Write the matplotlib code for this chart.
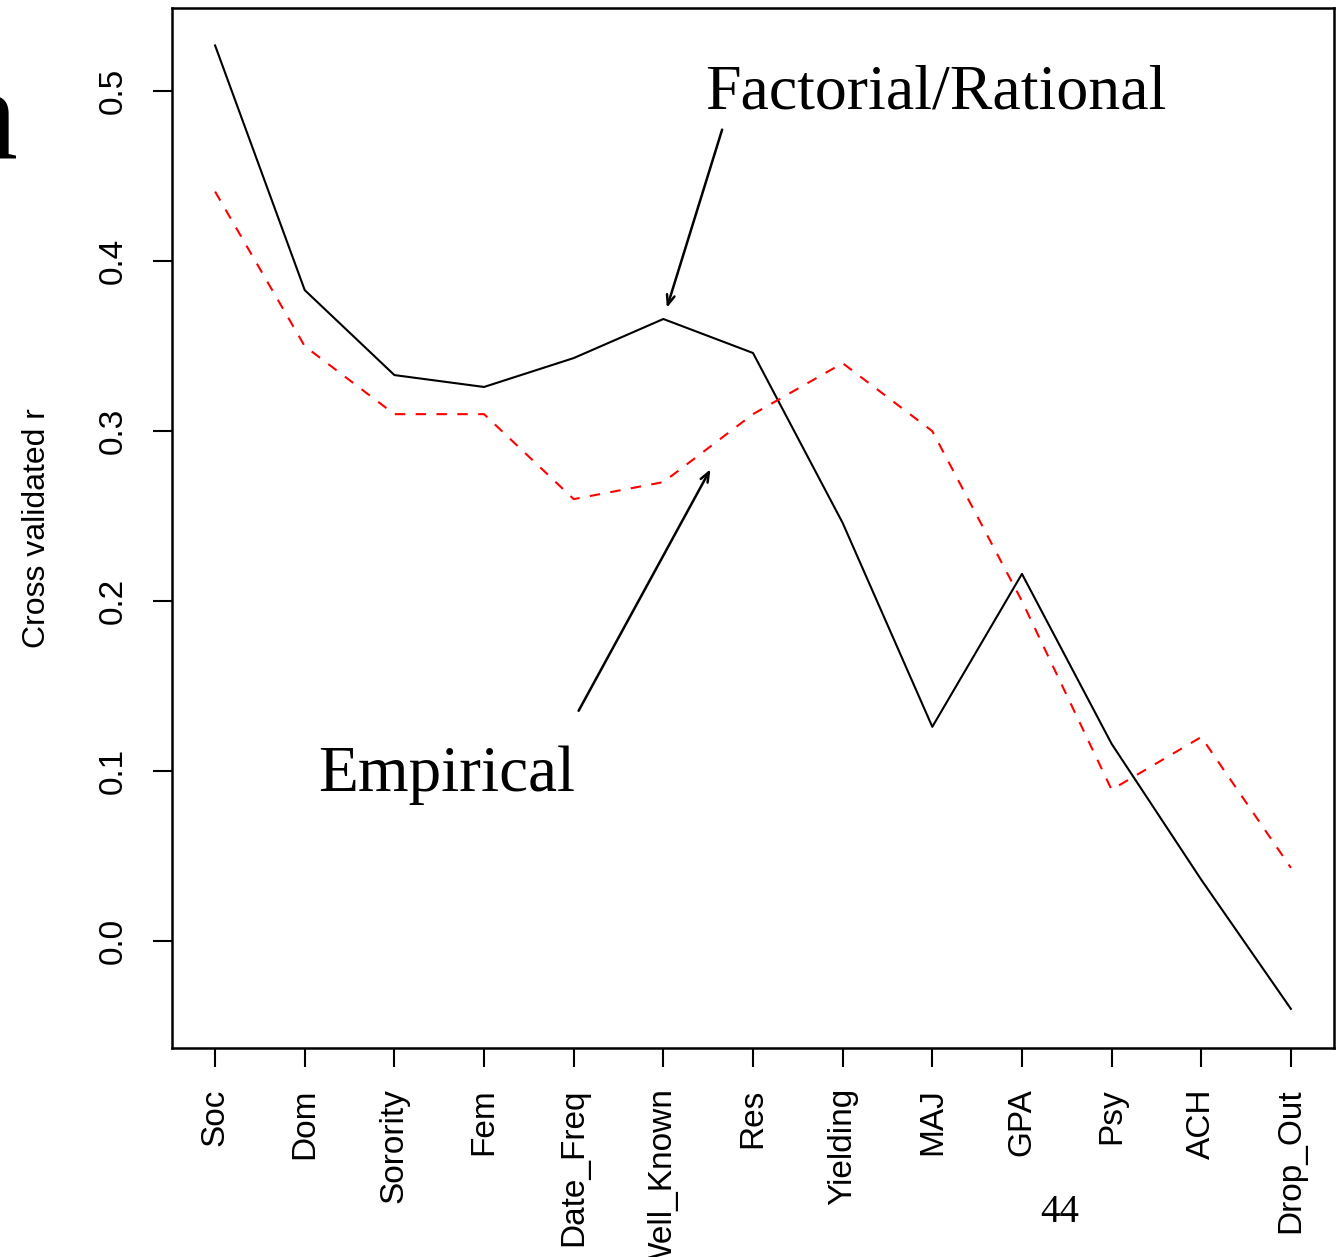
import matplotlib
matplotlib.use("Agg")
import matplotlib.pyplot as plt

# scales in order of the factorial/rational validity
scales = ["Soc", "Dom", "Sorority", "Fem", "Date_Freq", "Well_Known", "Res",
          "Yielding", "MAJ", "GPA", "Psy", "ACH", "Drop_Out"]
factorial = [0.527, 0.383, 0.333, 0.326, 0.343, 0.366, 0.346,
             0.246, 0.126, 0.216, 0.116, 0.036, -0.040]
empirical = [0.441, 0.350, 0.310, 0.310, 0.260, 0.270, 0.310,
             0.340, 0.300, 0.200, 0.089, 0.120, 0.043]
yticks = [0.0, 0.1, 0.2, 0.3, 0.4, 0.5]

sans = "Liberation Sans"
serif = "Liberation Serif"

fig = plt.figure(figsize=(13.42, 12.57), dpi=100)
ax = fig.add_axes([0.1282, 0.1663, 0.994 - 0.1282, 0.9936 - 0.1663])

x = list(range(len(scales)))
ax.plot(x, factorial, color="black", lw=1.5)
ax.plot(x, empirical, color="red", lw=1.5, linestyle=(0, (5, 5)))

ax.set_xlim(-0.48, 12.48)
ax.set_ylim(-0.063, 0.549)
ax.set_xticks(x)
ax.set_xticklabels(scales, rotation=90, fontfamily=sans, fontsize=24)
ax.set_yticks(yticks)
ax.set_yticklabels([f"{v:.1f}" for v in yticks], rotation=90, va="center",
                   fontfamily=sans, fontsize=24)
ax.tick_params(axis="both", length=14, width=1.5, direction="out")
ax.tick_params(axis="x", pad=15)
ax.tick_params(axis="y", pad=17)
for s in ax.spines.values():
    s.set_linewidth(1.8)

ax.set_ylabel("Cross validated r", fontfamily=sans, fontsize=23, labelpad=33)

# callouts
ax.annotate("", xy=(5.03, 0.371), xytext=(5.665, 0.479),
            arrowprops=dict(arrowstyle="->,head_length=0.7,head_width=0.28",
                            color="black", lw=1.8))
ax.text(5.465, 0.49, "Factorial/Rational", fontfamily=serif, fontsize=46,
        va="baseline", ha="left")
ax.annotate("", xy=(5.54, 0.279), xytext=(4.04, 0.134),
            arrowprops=dict(arrowstyle="->,head_length=0.7,head_width=0.28",
                            color="black", lw=1.8))
ax.text(1.15, 0.088, "Empirical", fontfamily=serif, fontsize=47,
        va="baseline", ha="left")

# slide remnants
fig.text(1060 / 1342, 1 - 1222 / 1257, "44", fontfamily=serif, fontsize=28,
         ha="center", va="baseline")
fig.text(18 / 1342, 1 - 158 / 1257, "n", fontfamily=serif, fontsize=95,
         ha="right", va="baseline")

fig.savefig("out.png", dpi=100)
